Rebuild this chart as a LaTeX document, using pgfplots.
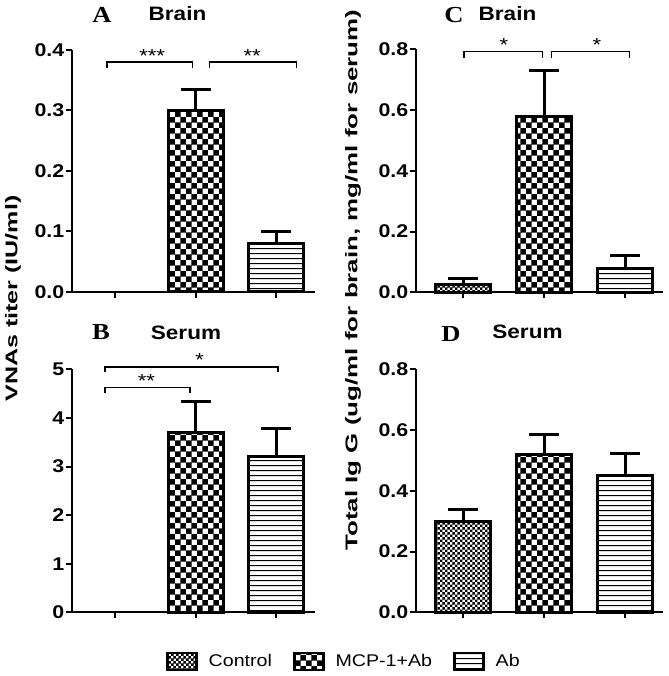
\documentclass[border=0pt]{standalone}
\usepackage{fontspec}
\setmainfont{Liberation Sans}
\newfontfamily\serifbf{Liberation Serif}
\usepackage{graphicx}
\usepackage{pgfplots}
\pgfplotsset{compat=1.18}
\usetikzlibrary{patterns}

\pgfdeclarepatternformonly{mcp}{\pgfqpoint{0pt}{0pt}}{\pgfqpoint{11pt}{11pt}}{\pgfqpoint{11pt}{11pt}}{%
  \pgfpathrectangle{\pgfqpoint{0pt}{0pt}}{\pgfqpoint{5.6pt}{5.6pt}}%
  \pgfpathrectangle{\pgfqpoint{5.5pt}{5.5pt}}{\pgfqpoint{5.6pt}{5.6pt}}%
  \pgfusepath{fill}}
\pgfdeclarepatternformonly{ctrl}{\pgfqpoint{0pt}{0pt}}{\pgfqpoint{5.4pt}{5.4pt}}{\pgfqpoint{5.4pt}{5.4pt}}{%
  \pgfpathrectangle{\pgfqpoint{0pt}{0pt}}{\pgfqpoint{2.75pt}{2.75pt}}%
  \pgfpathrectangle{\pgfqpoint{2.7pt}{2.7pt}}{\pgfqpoint{2.75pt}{2.75pt}}%
  \pgfusepath{fill}}
\pgfdeclarepatternformonly{hlines}{\pgfqpoint{0pt}{0pt}}{\pgfqpoint{5.3pt}{5.3pt}}{\pgfqpoint{5.3pt}{5.3pt}}{%
  \pgfpathrectangle{\pgfqpoint{-0.1pt}{2.05pt}}{\pgfqpoint{5.5pt}{1.2pt}}%
  \pgfusepath{fill}}

\newcommand\hs[1]{\scalebox{1.16}[1]{#1}}
\newcommand\mytickdec{\hs{\pgfmathprintnumber[fixed,fixed zerofill,precision=1]{\tick}}}
\newcommand\mytickint{\hs{\pgfmathprintnumber[fixed,precision=0]{\tick}}}

\tikzset{
  brk/.style={line width=1.3bp, black},
  star/.style={font=\fontsize{19}{20}\selectfont, anchor=base, inner sep=0pt},
  letter/.style={anchor=base, font=\fontsize{23}{24}\serifbf\bfseries},
  ptitle/.style={anchor=base, font=\fontsize{19.5}{21}\selectfont\bfseries},
}
\pgfplotsset{
  panel/.style={
    scale only axis, axis lines=left, axis line style={-, line width=2.3bp},
    ymin=0, clip=false, scaled y ticks=false,
    xtick={0,1,2}, xticklabels={,,},
    tick align=outside, major tick length=6bp,
    tick style={black, line width=2bp},
    /pgf/number format/assume math mode=true,
    yticklabel style={font=\fontsize{18.5}{20}\selectfont\bfseries, inner sep=1.5bp},
  },
  ab/.style={panel, xmin=-0.534, xmax=2.48, width=243bp, height=242bp},
  cd/.style={panel, xmin=-0.584, xmax=2.465, width=247bp, height=243bp},
  mybar/.style={ybar, bar width=0.68, bar shift=0pt, draw=black, line width=3bp, forget plot,
    /pgfplots/error bars/y dir=plus, /pgfplots/error bars/y explicit,
    /pgfplots/error bars/error mark=-,
    /pgfplots/error bars/error bar style={line width=3bp, black, solid},
    /pgfplots/error bars/error mark options={rotate=90, line width=3bp, black, mark size=15bp}},
}

\begin{document}
\begin{tikzpicture}
\useasboundingbox (0,0) rectangle (669bp,676bp);

% Panel A
\begin{axis}[ab, at={(72bp,384bp)}, anchor=south west, ymax=0.4,
  ytick={0,0.1,0.2,0.3,0.4}, yticklabel={\mytickdec}]
\addplot[mybar, pattern=mcp] coordinates {(1,0.30) +- (0,0.035)};
\addplot[mybar, pattern=hlines] coordinates {(2,0.08) +- (0,0.02)};
\draw[brk] (axis cs:-0.10,0.370) -- (axis cs:-0.10,0.380) -- (axis cs:0.957,0.380) -- (axis cs:0.957,0.370);
\draw[brk] (axis cs:1.17,0.370) -- (axis cs:1.17,0.380) -- (axis cs:2.25,0.380) -- (axis cs:2.25,0.370);
\node[star] at (axis cs:0.46,0.380) {\hs{***}};
\node[star] at (axis cs:1.70,0.380) {\hs{**}};
\end{axis}

% Panel B
\begin{axis}[ab, at={(72bp,63.7bp)}, anchor=south west, ymax=5, height=243bp,
  ytick={0,1,2,3,4,5}, yticklabel={\mytickint}]
\addplot[mybar, pattern=mcp] coordinates {(1,3.70) +- (0,0.63)};
\addplot[mybar, pattern=hlines] coordinates {(2,3.20) +- (0,0.59)};
\draw[brk] (axis cs:-0.124,4.52) -- (axis cs:-0.124,4.62) -- (axis cs:0.93,4.62) -- (axis cs:0.93,4.52);
\draw[brk] (axis cs:-0.124,4.95) -- (axis cs:-0.124,5.05) -- (axis cs:2.02,5.05) -- (axis cs:2.02,4.95);
\node[star] at (axis cs:0.39,4.62) {\hs{**}};
\node[star] at (axis cs:1.05,5.05) {\hs{*}};
\end{axis}

% Panel C
\begin{axis}[cd, at={(416bp,383.7bp)}, anchor=south west, ymax=0.8,
  ytick={0,0.2,0.4,0.6,0.8}, yticklabel={\mytickdec}]
\addplot[mybar, pattern=ctrl] coordinates {(0,0.027) +- (0,0.017)};
\addplot[mybar, pattern=mcp] coordinates {(1,0.578) +- (0,0.152)};
\addplot[mybar, pattern=hlines] coordinates {(2,0.077) +- (0,0.043)};
\draw[brk] (axis cs:0.01,0.770) -- (axis cs:0.01,0.792) -- (axis cs:0.975,0.792) -- (axis cs:0.975,0.770);
\draw[brk] (axis cs:1.09,0.770) -- (axis cs:1.09,0.792) -- (axis cs:2.05,0.792) -- (axis cs:2.05,0.770);
\node[star] at (axis cs:0.50,0.792) {\hs{*}};
\node[star] at (axis cs:1.65,0.792) {\hs{*}};
\end{axis}

% Panel D
\begin{axis}[cd, at={(416bp,63.7bp)}, anchor=south west, ymax=0.8,
  ytick={0,0.2,0.4,0.6,0.8}, yticklabel={\mytickdec},
  legend style={at={(axis description cs:-1.0121,-0.2025)}, anchor=west, draw=none, fill=none,
    inner sep=0pt, legend columns=3, font=\fontsize{17}{18}\selectfont,
    /tikz/every odd column/.style={column sep=11bp},
    /tikz/every even column/.style={column sep=21bp},
    nodes={inner sep=0pt}}]
\addplot[mybar, pattern=ctrl] coordinates {(0,0.298) +- (0,0.041)};
\addplot[mybar, pattern=mcp] coordinates {(1,0.518) +- (0,0.066)};
\addplot[mybar, pattern=hlines] coordinates {(2,0.449) +- (0,0.074)};
\addlegendimage{legend image code/.code={\draw[pattern=ctrl, line width=2.5bp] (0bp,-8.5bp) rectangle (29bp,8.5bp);}}
\addlegendentry{\hs{Control}}
\addlegendimage{legend image code/.code={\draw[pattern=mcp, line width=2.5bp] (0bp,-8.5bp) rectangle (29bp,8.5bp);}}
\addlegendentry{\hs{MCP-1+Ab}}
\addlegendimage{legend image code/.code={\draw[pattern=hlines, line width=2.5bp] (0bp,-8.5bp) rectangle (29bp,8.5bp);}}
\addlegendentry{\hs{Ab}}
\end{axis}

% Titles
\node[letter] at (102bp,653bp) {\hs{A}};
\node[ptitle] at (177.5bp,655.3bp) {\hs{Brain}};
\node[letter] at (454bp,653bp) {\hs{C}};
\node[ptitle] at (507.5bp,655.3bp) {\hs{Brain}};
\node[letter] at (101bp,336.7bp) {\hs{B}};
\node[ptitle] at (186bp,336.5bp) {\hs{Serum}};
\node[letter] at (451bp,334bp) {\hs{D}};
\node[ptitle] at (527.5bp,337bp) {\hs{Serum}};

% Y labels
\node[anchor=base, rotate=90, inner sep=0pt, font=\fontsize{17}{18}\selectfont\bfseries] at (17.3bp,377.5bp) {\scalebox{1.48}[1]{VNAs titer (IU/ml)}};
\node[anchor=base, rotate=90, inner sep=0pt, font=\fontsize{17}{18}\selectfont\bfseries] at (357.3bp,396bp) {\scalebox{1.53}[1]{Total Ig G (ug/ml for brain, mg/ml for serum)}};
\end{tikzpicture}
\end{document}
